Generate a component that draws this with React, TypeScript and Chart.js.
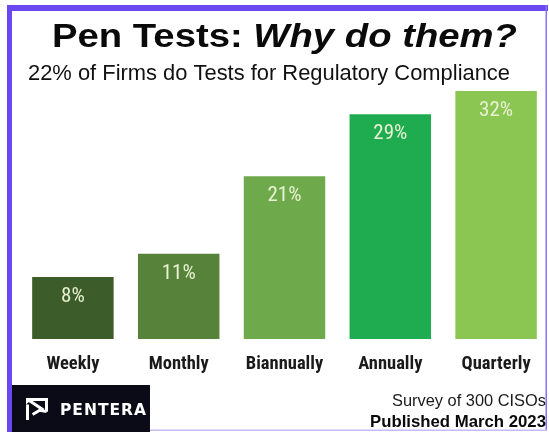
import React, { useEffect, useRef } from "react";
import { Chart, registerables } from "chart.js";

Chart.register(...registerables);

// ---- data ----
const categories = ["Weekly", "Monthly", "Biannually", "Annually", "Quarterly"];
const percentages = [8, 11, 21, 29, 32];
const barColors = ["#3c5c2a", "#568339", "#6ea94b", "#1fac51", "#8bc653"];

const titleMain = "Pen Tests: ";
const titleItalic = "Why do them?";
const subtitle = "22% of Firms do Tests for Regulatory Compliance";
const footerLine1 = "Survey of 300 CISOs";
const footerLine2 = "Published March 2023";
const brand = "PENTERA";

const NARROW = "'Liberation Sans Narrow', 'Arial Narrow', 'Roboto Condensed', sans-serif";
const SANS = "'Liberation Sans', Arial, Helvetica, sans-serif";

type Run = { text: string; font: string };

function drawRuns(
  ctx: CanvasRenderingContext2D,
  runs: Run[],
  x: number,
  y: number,
  targetWidth: number,
  color: string,
  letterSpacing = "0px"
) {
  ctx.save();
  (ctx as any).letterSpacing = letterSpacing;
  let total = 0;
  const ws = runs.map((r) => {
    ctx.font = r.font;
    const w = ctx.measureText(r.text).width;
    total += w;
    return w;
  });
  const sx = targetWidth / total;
  ctx.translate(x, y);
  ctx.scale(sx, 1);
  ctx.fillStyle = color;
  ctx.textAlign = "left";
  ctx.textBaseline = "alphabetic";
  let cx = 0;
  runs.forEach((r, i) => {
    ctx.font = r.font;
    ctx.fillText(r.text, cx, 0);
    cx += ws[i];
  });
  ctx.restore();
}

const decorPlugin = {
  id: "decor",
  beforeDraw(chart: any) {
    const ctx = chart.ctx as CanvasRenderingContext2D;
    ctx.save();
    ctx.fillStyle = "#ffffff";
    ctx.fillRect(0, 0, chart.width, chart.height);
    ctx.restore();
  },
  afterDraw(chart: any) {
    const ctx = chart.ctx as CanvasRenderingContext2D;
    ctx.save();
    // frame
    ctx.fillStyle = "#6a49f2";
    ctx.fillRect(7, 5, 5, 427);
    ctx.fillRect(7, 5, 541, 6);
    ctx.fillStyle = "#8a72f2";
    ctx.fillRect(545.5, 5, 1.5, 426);
    ctx.fillStyle = "#c4bcf4";
    ctx.fillRect(150, 429.5, 397, 1.5);

    // logo box
    ctx.fillStyle = "#0b0b17";
    ctx.fillRect(12, 385, 138, 47);

    // logo icon
    const x0 = 26, y0 = 398, s = 22;
    ctx.strokeStyle = "#ffffff";
    ctx.fillStyle = "#ffffff";
    ctx.lineWidth = 3;
    ctx.lineCap = "butt";
    ctx.beginPath();
    ctx.moveTo(x0, y0 + 1.5);
    ctx.lineTo(x0 + s, y0 + 1.5);
    ctx.moveTo(x0 + s - 1.5, y0);
    ctx.lineTo(x0 + s - 1.5, y0 + s * 0.62);
    ctx.moveTo(x0 + 1.5, y0 + s * 0.3);
    ctx.lineTo(x0 + 1.5, y0 + s);
    ctx.moveTo(x0 + 1, y0 + 1);
    ctx.lineTo(x0 + s * 0.72, y0 + s * 0.5);
    ctx.lineTo(x0 + s * 0.3, y0 + s * 0.75);
    ctx.moveTo(x0 + s * 0.62, y0 + s * 0.56);
    ctx.lineTo(x0 + s - 1.5, y0 + s * 0.62);
    ctx.stroke();
    ctx.beginPath();
    ctx.moveTo(x0, y0);
    ctx.lineTo(x0 + s * 0.35, y0);
    ctx.lineTo(x0, y0 + s * 0.3);
    ctx.closePath();
    ctx.fill();
    ctx.restore();

    drawRuns(ctx, [{ text: brand, font: `bold 16px 'DejaVu Sans', sans-serif` }], 60, 415, 87, "#ffffff", "1px");

    // titles
    drawRuns(
      ctx,
      [
        { text: titleMain, font: `bold 34px ${SANS}` },
        { text: titleItalic, font: `italic bold 34px ${SANS}` },
      ],
      52,
      47,
      465,
      "#0a0a0a"
    );
    drawRuns(ctx, [{ text: subtitle, font: `21.5px ${SANS}` }], 28, 80, 482, "#111111");

    // footer
    drawRuns(ctx, [{ text: footerLine1, font: `16.5px ${SANS}` }], 546 - 154, 406, 154, "#1a1a1a");
    drawRuns(ctx, [{ text: footerLine2, font: `bold 16.5px ${SANS}` }], 546 - 176, 427, 176, "#0a0a0a");
  },
};

const valueLabelPlugin = {
  id: "valueLabels",
  afterDatasetsDraw(chart: any) {
    const ctx = chart.ctx as CanvasRenderingContext2D;
    const meta = chart.getDatasetMeta(0);
    const data = chart.data.datasets[0].data as number[];
    ctx.save();
    ctx.font = `21px ${NARROW}`;
    ctx.fillStyle = "#e8f2d2";
    ctx.textAlign = "center";
    ctx.textBaseline = "alphabetic";
    meta.data.forEach((bar: any, i: number) => {
      ctx.fillText(`${data[i]}%`, bar.x, bar.y + 25);
    });
    ctx.restore();
  },
};

export default function App() {
  const canvasRef = useRef<HTMLCanvasElement | null>(null);

  useEffect(() => {
    const canvas = canvasRef.current;
    if (!canvas) return;
    const chart = new Chart(canvas, {
      type: "bar",
      data: {
        labels: categories,
        datasets: [
          {
            data: percentages,
            backgroundColor: barColors,
            borderWidth: 0,
            categoryPercentage: 1,
            barPercentage: 0.77,
          },
        ],
      },
      options: {
        responsive: false,
        animation: false,
        devicePixelRatio: 1,
        layout: { padding: { left: 20, right: -3.5, top: 91, bottom: 0 } },
        plugins: {
          legend: { display: false },
          tooltip: { enabled: false },
          title: { display: false },
        },
        scales: {
          x: {
            grid: { display: false, drawTicks: false },
            border: { display: false },
            ticks: {
              color: "#1a1a1a",
              padding: 14,
              font: { family: NARROW, size: 18.5, weight: "bold" },
            },
            afterFit: (scale: any) => {
              scale.height = 93;
            },
          },
          y: {
            display: false,
            min: 0,
            max: 32,
          },
        },
      },
      plugins: [decorPlugin, valueLabelPlugin],
    } as any);
    return () => chart.destroy();
  }, []);

  return (
    <div style={{ position: "absolute", left: 0, top: 0, width: 549, height: 432 }}>
      <canvas ref={canvasRef} width={549} height={432} style={{ display: "block" }} />
    </div>
  );
}
